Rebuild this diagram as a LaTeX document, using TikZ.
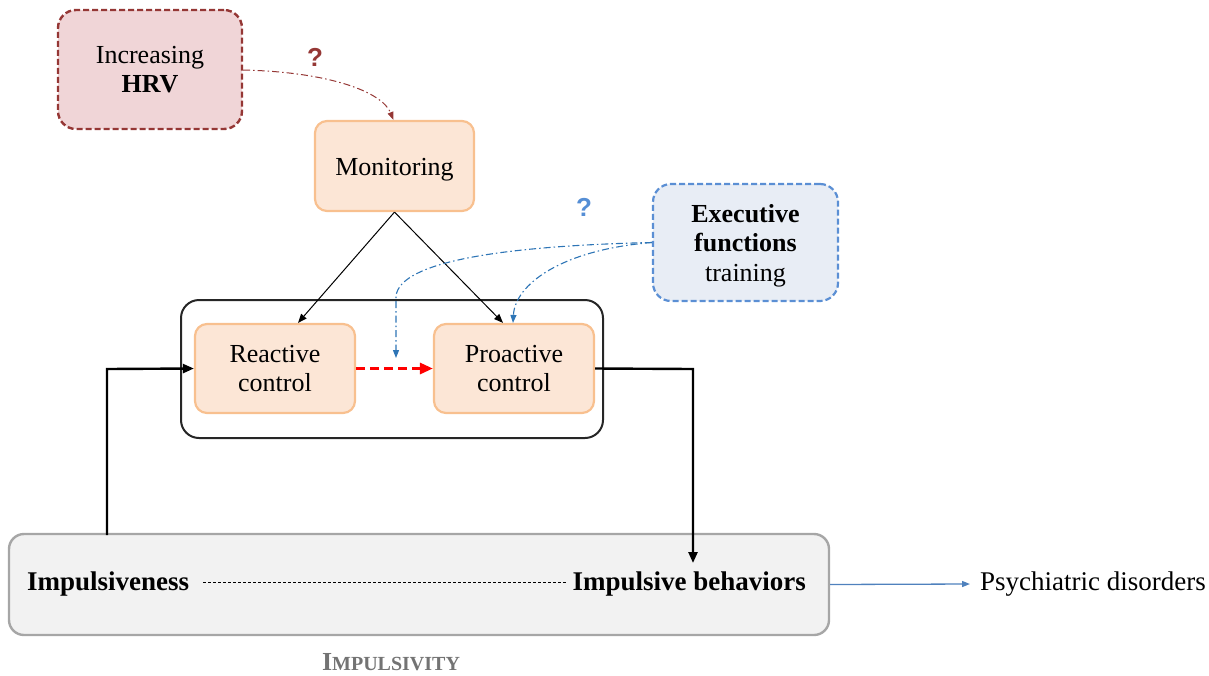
\documentclass[tikz,border=0pt]{standalone}
\usepackage{fontspec}
\setmainfont{Liberation Serif}
\newfontfamily\qfont{Liberation Sans}
\usetikzlibrary{arrows.meta,calc}
\definecolor{hrvfill}{HTML}{F0D5D7}
\definecolor{hrvline}{HTML}{953735}
\definecolor{peach}{HTML}{FCE6D6}
\definecolor{peachline}{HTML}{F8C08F}
\definecolor{efill}{HTML}{E8EDF5}
\definecolor{eline}{HTML}{5B8FD4}
\definecolor{dashblue}{HTML}{2E75B6}
\definecolor{qblue}{HTML}{558ED5}
\definecolor{impfill}{HTML}{F2F2F2}
\definecolor{impline}{HTML}{A6A6A6}
\definecolor{psyblue}{HTML}{4F81BD}
\newcommand{\lowtext}[2]{\raisebox{-#1}[\height][\depth]{\begin{tabular}{@{}c@{}}#2\end{tabular}}}
\tikzset{
  txt/.style={font=\fontsize{26}{29.5}\selectfont, align=center, inner sep=0pt},
  peachbox/.style={txt, draw=peachline, fill=peach, line width=2.2pt, rounded corners=12pt},
  dashdot/.style={dash pattern=on 7pt off 3pt on 1.5pt off 3pt},
  thintip/.style={-{Triangle[length=9pt,width=7pt]}},
  thicktip/.style={-{Triangle[length=11pt,width=9pt]}},
  bottomtxt/.style={font=\fontsize{27}{30}\selectfont, inner sep=0pt},
}
\begin{document}
\begin{tikzpicture}[x=1pt,y=-1pt, line join=miter]
\useasboundingbox (0,0) rectangle (1209,675);
% HRV box
\node[txt, draw=hrvline, fill=hrvfill, line width=2.4pt, dash pattern=on 6pt off 3pt, rounded corners=18pt,
      minimum width=184pt, minimum height=119pt] (hrv) at (150,69.5) {\lowtext{2.5pt}{Increasing\\\textbf{HRV}}};
\node[font=\qfont\bfseries\fontsize{26}{30}\selectfont, text=hrvline, inner sep=0pt] (q1) at (315,57) {?};
% Monitoring
\node[peachbox, minimum width=159pt, minimum height=90pt] (mon) at (394.5,166) {\lowtext{4pt}{Monitoring}};
% outer box
\node[draw=black!85, line width=2pt, rounded corners=18pt, minimum width=422pt, minimum height=138pt, inner sep=0pt] (ctl) at (392,369) {};
\node[peachbox, minimum width=160pt, minimum height=89pt] (reac) at (275,368.5) {\lowtext{2.5pt}{Reactive\\control}};
\node[peachbox, minimum width=160pt, minimum height=89pt] (proa) at (514,368.5) {\lowtext{2.5pt}{Proactive\\control}};
% Executive functions
\node[txt, draw=eline, fill=efill, line width=2.2pt, dash pattern=on 6pt off 3pt, rounded corners=18pt,
      minimum width=185pt, minimum height=117pt] (ef) at (745.5,242.5) {\lowtext{3.5pt}{\textbf{Executive}\\\textbf{functions}\\training}};
\node[font=\qfont\bfseries\fontsize{26}{30}\selectfont, text=qblue, inner sep=0pt] (q2) at (584,207) {?};
% Impulsivity box
\node[draw=impline, fill=impfill, line width=2.4pt, rounded corners=15pt, minimum width=820pt, minimum height=101pt, inner sep=0pt] (imp) at (419,584.5) {};
\node[bottomtxt, font=\bfseries\fontsize{27}{30}\selectfont, anchor=west] (imps) at (27,584) {Impulsiveness};
\node[bottomtxt, font=\bfseries\fontsize{27}{30}\selectfont, anchor=east] (impb) at (806,584) {Impulsive behaviors};
\node[bottomtxt, anchor=west] (psy) at (980,584) {Psychiatric disorders};
\node[font=\bfseries, text=black!55, inner sep=0pt] (lab) at (391,662) {{\fontsize{26}{28}\selectfont I}{\fontsize{20}{28}\selectfont MPULSIVITY}};
% connectors
\draw[hrvline, line width=1pt, dashdot, -{Triangle[length=8pt,width=6pt]}]
  ($(hrv.east)+(0,0.5)$) .. controls (330,72) and (382,92) .. ($(mon.north)+(-1,0)$);
\draw[black, line width=1pt, thintip] (mon.south) -- ($(reac.north)+(23,0)$);
\draw[black, line width=1pt, thintip] (mon.south) -- ($(proa.north)+(-11,0)$);
\draw[red, line width=3pt, dash pattern=on 9pt off 5pt, -{Triangle[length=13pt,width=11pt]}] (reac.east) -- (proa.west);
\coordinate (efl) at (ef.west);
\draw[dashblue, line width=1.1pt, dashdot, -{Triangle[length=8pt,width=6pt]}]
  (efl) .. controls (500,246) and (400,262) .. (396,296) -- (396,358);
\draw[dashblue, line width=1.1pt, dashdot, -{Triangle[length=8pt,width=6pt]}]
  (efl) .. controls (560,250) and (515,285) .. ($(proa.north)+(-1,0)$);
\coordinate (lb) at (107,369);
\draw[black, line width=2.4pt, thicktip] (107,535) -- (lb) -- (reac.west);
\coordinate (rb) at (693,369);
\draw[black, line width=2.4pt, thicktip] (proa.east) -- (rb) -- (693,563);
\draw[black, line width=0.8pt, dash pattern=on 3pt off 2pt] ($(imps.east)+(14,-2)$) -- ($(impb.west)+(-6,-2)$);
\draw[psyblue, line width=1.3pt, -{Triangle[length=8pt,width=6pt]}] (imp.east) -- ($(psy.west)+(-10,0)$);
\end{tikzpicture}
\end{document}
